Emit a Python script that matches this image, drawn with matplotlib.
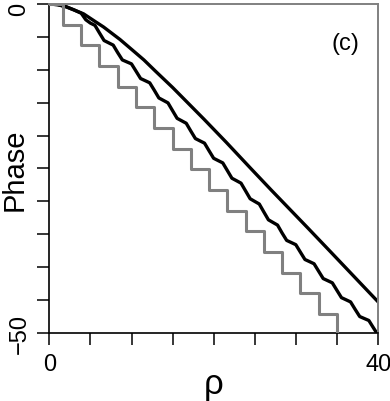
import matplotlib
matplotlib.use("Agg")
import matplotlib.pyplot as plt
import matplotlib.transforms as mtransforms

plt.rcParams['font.family'] = ['Liberation Sans', 'DejaVu Sans']

# smooth curve
smooth_rho = [0, 1.0, 2.0, 3.0, 4.17, 5.5, 6.6, 8.6, 10.1, 11.5, 12.9, 15.0,
              18.8, 21.5, 24.5, 27.0, 31.4, 34.3, 40.0]
smooth_phase = [0, -0.1, -0.4, -0.9, -1.5, -2.6, -3.5, -5.4, -7.0, -8.5, -10.2, -12.7,
                -17.5, -21.0, -25.0, -28.3, -34.0, -37.8, -45.3]

# wavy curve
wavy_rho = [0, 1.0, 2.0, 3.0, 3.88, 4.44, 4.99, 5.55,
            6.10, 6.66, 7.21, 7.77, 8.32, 8.88, 9.43, 9.99,
            10.54, 11.10, 11.65, 12.21, 12.76, 13.32, 13.87, 14.43,
            14.98, 15.54, 16.09, 16.65, 17.20, 17.76, 18.31, 18.87,
            19.42, 19.98, 20.53, 21.09, 21.64, 22.20, 22.75, 23.31,
            23.86, 24.42, 24.97, 25.53, 26.08, 26.64, 27.19, 27.75,
            28.30, 28.86, 29.41, 29.97, 30.52, 31.08, 31.63, 32.19,
            32.74, 33.30, 33.85, 34.41, 34.96, 35.52, 36.07, 36.63,
            37.18, 37.74, 38.29, 38.85, 39.40, 39.96]
wavy_phase = [0, -0.1, -0.4, -0.9, -1.4, -2.4, -2.9, -3.25,
              -4.4, -5.55, -5.9, -6.25, -7.4, -8.5, -8.8, -9.1,
              -10.2, -11.33, -11.65, -11.98, -13.1, -14.28, -14.65, -15.03,
              -16.2, -17.38, -17.75, -18.13, -19.3, -20.45, -20.8, -21.15,
              -22.3, -23.45, -23.8, -24.15, -25.3, -26.48, -26.85, -27.23,
              -28.4, -29.6, -30.0, -30.4, -31.6, -32.8, -33.2, -33.6,
              -34.8, -35.93, -36.25, -36.58, -37.7, -38.83, -39.15, -39.48,
              -40.6, -41.73, -42.05, -42.38, -43.5, -44.63, -44.95, -45.28,
              -46.4, -47.5, -47.8, -48.1, -49.2, -50.3]

# gray staircase: jump positions and levels
step_rho = [0, 1.66, 3.88, 6.10, 8.32, 10.54, 12.76, 14.98, 17.20, 19.42,
            21.64, 23.86, 26.08, 28.30, 30.52, 32.74, 34.96, 40.0]
step_phase = [0, -3.14, -6.28, -9.42, -12.57, -15.71, -18.85, -21.99, -25.13,
              -28.27, -31.42, -34.56, -37.70, -40.84, -43.98, -47.12, -50.27, -50.27]

fig = plt.figure(figsize=(3.9, 4.02), dpi=100)
ax = fig.add_axes([0.1264, 0.1692, 0.8436, 0.8184])

ax.plot(smooth_rho, smooth_phase, color='black', lw=2.4, zorder=2,
        solid_joinstyle='round')
ax.plot(wavy_rho, wavy_phase, color='black', lw=2.4, zorder=2,
        solid_joinstyle='round')
ax.step(step_rho, step_phase, where='post', color='#808080', lw=2.2, zorder=3)

ax.set_xlim(0, 40)
ax.set_ylim(-50, 0)

ax.set_xticks(range(0, 41, 5))
ax.set_xticklabels(['0', '', '', '', '', '', '', '', '40'])
ax.set_yticks(range(-50, 1, 5))
ax.set_yticklabels(['\u221250'] + [''] * 9 + ['0'], rotation=90, va='center')

ax.tick_params(axis='both', direction='out', length=8.6, width=1.1,
               labelsize=17, color='black')
ax.tick_params(axis='x', pad=6)
ax.tick_params(axis='y', pad=5)

# push the top "0" label down a little so it stays inside the figure
top_lab = ax.get_yticklabels()[-1]
top_lab.set_transform(top_lab.get_transform() +
                      mtransforms.ScaledTranslation(0, -3 / 72, fig.dpi_scale_trans))

for side in ['left', 'bottom']:
    ax.spines[side].set_color('black')
    ax.spines[side].set_linewidth(1.2)
for side in ['top', 'right']:
    ax.spines[side].set_color('#808080')
    ax.spines[side].set_linewidth(1.4)

ax.text(-0.105, 0.5, 'Phase', transform=ax.transAxes, rotation=90,
        fontsize=21, ha='center', va='center')
ax.set_xlabel('\u03c1', fontsize=25, labelpad=-6)

ax.text(36.0, -5.9, '(c)', fontsize=17, ha='center', va='center')

fig.savefig('out.png', dpi=100)
